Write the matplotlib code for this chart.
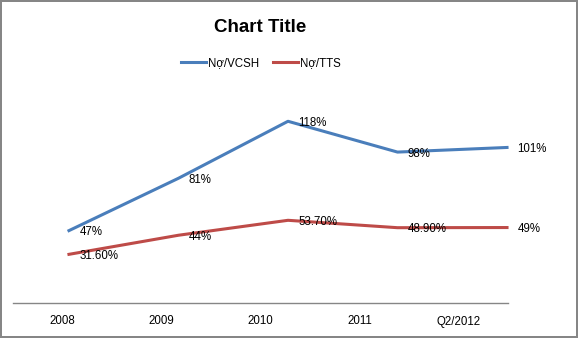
import matplotlib
matplotlib.use("Agg")
import matplotlib.pyplot as plt

plt.rcParams["font.family"] = ["Liberation Sans", "DejaVu Sans"]

# ── Data ─────────────────────────────────────────────
categories = ["2008", "2009", "2010", "2011", "Q2/2012"]
no_vcsh = [47, 81, 118, 98, 101]
no_tts = [31.6, 44, 53.7, 48.9, 49]
labels_vcsh = ["47%", "81%", "118%", "98%", "101%"]
labels_tts = ["31.60%", "44%", "53.70%", "48.90%", "49%"]

BLUE = "#4A7EBB"
RED = "#BE4B48"
GREY = "#868686"
FS = 8.3

W, H = 578, 338
fig = plt.figure(figsize=(W / 100, H / 100), dpi=100)
fig.patch.set_facecolor("white")
fig.patch.set_edgecolor(GREY)
fig.patch.set_linewidth(1.5)

# axes box in pixels: x 13..508, y 87..303
left, right, bottom, top = 13, 508, 303, 87.4
ax = fig.add_axes([left / W, 1 - bottom / H, (right - left) / W, (bottom - top) / H])
ax.patch.set_alpha(0)

x = list(range(len(categories)))
ax.plot(x, no_vcsh, color=BLUE, linewidth=2.2, label="Nợ/VCSH", clip_on=False)
ax.plot(x, no_tts, color=RED, linewidth=2.2, label="Nợ/TTS", clip_on=False)

# lines sit on a slightly wider grid than the category labels (as in the original)
ax.set_xlim(-0.511, 4.009)
ax.set_ylim(0, 140)
ax.set_xticks([])
ax.set_yticks([])
for s in ax.spines.values():
    s.set_visible(False)

for xi, v, t in zip(x, no_vcsh, labels_vcsh):
    ax.annotate(t, (xi, v), xytext=(7.5, -1.2), textcoords="offset points",
                ha="left", va="center", fontsize=FS, color="black", annotation_clip=False)
for xi, v, t in zip(x, no_tts, labels_tts):
    ax.annotate(t, (xi, v), xytext=(7.5, -1.2), textcoords="offset points",
                ha="left", va="center", fontsize=FS, color="black", annotation_clip=False)

# category axis
axc = ax.twiny()
axc.patch.set_alpha(0)
axc.set_xlim(-0.5, len(categories) - 0.5)
axc.xaxis.set_ticks_position("bottom")
axc.xaxis.set_label_position("bottom")
axc.set_xticks(x)
axc.set_xticklabels(categories, fontsize=FS)
axc.tick_params(axis="x", length=0, pad=9)
axc.set_yticks([])
for name, s in axc.spines.items():
    s.set_visible(name == "bottom")
axc.spines["bottom"].set_color(GREY)
axc.spines["bottom"].set_linewidth(1.0)

fig.text(260.5 / W, 1 - 27 / H, "Chart Title", ha="center", va="center",
         fontsize=13.5, fontweight="bold")

fig.legend(loc="center", bbox_to_anchor=(261 / W, 1 - 63 / H), ncol=2,
           frameon=False, fontsize=FS, handlelength=2.2, handletextpad=0.15,
           columnspacing=1.2)

fig.savefig("out.png", dpi=100)
